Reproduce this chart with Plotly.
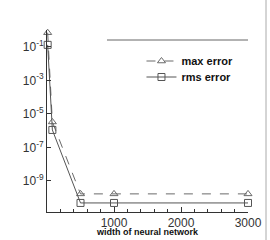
import plotly.graph_objects as go

width_nn = [10, 80, 500, 1000, 3000]
max_error = [0.69, 3.3e-6, 1.7e-10, 1.7e-10, 1.7e-10]
rms_error = [0.13, 1.1e-6, 4.9e-11, 4.9e-11, 4.9e-11]

ytick_vals = [1e-1, 1e-3, 1e-5, 1e-7, 1e-9]
ytick_text = ["10<sup>-1</sup>", "10<sup>-3</sup>", "10<sup>-5</sup>", "10<sup>-7</sup>", "10<sup>-9</sup>"]
xtick_vals = [1000, 2000, 3000]
xtick_text = ["1000", "2000", "3000"]
x_title = "width of neural network"

FONT = "Liberation Sans, Arial, Helvetica, sans-serif"

fig = go.Figure()
fig.add_trace(go.Scatter(
    x=width_nn, y=max_error, name="<b>max error</b>", mode="lines+markers",
    line=dict(color="#6a6a6a", width=1, dash="dash"),
    marker=dict(symbol="triangle-up-open", size=7, color="#6a6a6a", line=dict(width=1)),
    cliponaxis=False, legend="legend",
))
fig.add_trace(go.Scatter(
    x=width_nn, y=rms_error, name="<b>rms error</b>", mode="lines+markers",
    line=dict(color="#555555", width=1),
    marker=dict(symbol="square-open", size=7, color="#555555", line=dict(width=1)),
    cliponaxis=False, legend="legend2",
))

leg_common = dict(xanchor="left", yanchor="middle",
                  font=dict(size=11, color="#111111"), bgcolor="rgba(0,0,0,0)")

fig.update_layout(
    width=270, height=240,
    margin=dict(l=47, r=22, t=30, b=28, autoexpand=False),
    paper_bgcolor="white", plot_bgcolor="white",
    font=dict(family=FONT, color="#222222", size=12),
    showlegend=True,
    legend=dict(x=0.47, y=(212 - 61) / 182, **leg_common),
    legend2=dict(x=0.47, y=(212 - 77) / 182, **leg_common),
    xaxis=dict(range=[0, 3000], showgrid=False, zeroline=False, automargin=False,
               showline=True, linecolor="#333333", linewidth=1,
               ticks="inside", ticklen=5, tickcolor="#333333",
               tickvals=xtick_vals, ticktext=xtick_text,
               minor=dict(ticks="inside", dtick=200, ticklen=3, tickcolor="#333333"),
               tickfont=dict(size=12, color="#333333")),
    yaxis=dict(type="log", range=[-10.85, 0.0], showgrid=False, zeroline=False, automargin=False,
               showline=True, linecolor="#333333", linewidth=1,
               ticks="inside", ticklen=4, tickcolor="#333333",
               tickvals=ytick_vals, ticktext=ytick_text,
               tickfont=dict(size=12, color="#333333")),
    annotations=[
        dict(text="<b>" + x_title + "</b>", xref="paper", yref="paper", x=0.5, y=(212 - 232) / 182,
             xanchor="center", yanchor="middle", showarrow=False,
             font=dict(size=9, color="#111111")),
    ],
    shapes=[
        dict(type="line", xref="paper", yref="paper", x0=0.2985, x1=1.0, y0=0.945, y1=0.945,
             line=dict(color="#666666", width=1)),
        dict(type="line", xref="paper", yref="paper", x0=1.0896, x1=1.0896, y0=-0.16, y1=1.17,
             line=dict(color="#aaaaaa", width=1)),
    ],
)

fig.write_html("out.html", config={"displayModeBar": False},
               post_script="document.body.style.margin='0';")
